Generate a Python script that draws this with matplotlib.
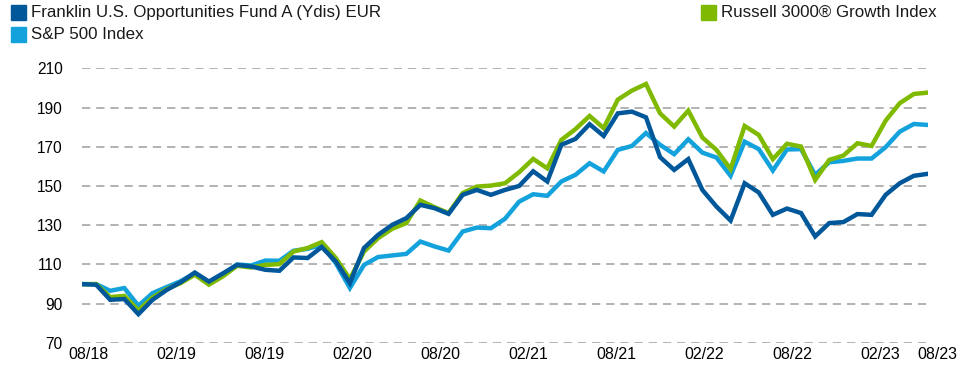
import numpy as np
import matplotlib.pyplot as plt
from matplotlib.patches import Rectangle

plt.rcParams['font.family'] = ['Liberation Sans', 'DejaVu Sans']

# monthly index values, 08/18 = 100, through 08/23
fund = [100, 99.7, 92, 92.4, 84.7, 92, 97, 101, 105.9, 101.3,
        105.5, 109.8, 109, 107.3, 106.8, 113.6, 113.3, 118.9, 111.5, 100.5,
        118.4, 125.1, 130.2, 133.6, 140.4, 138.7, 135.8, 145.5, 148, 145.5,
        148, 150, 157.5, 152.3, 171, 174, 181.5, 175.5, 187, 187.9,
        185, 164.7, 158.2, 163.7, 148, 139.5, 132.4, 151.4, 146.7, 135.3,
        138.5, 136.2, 124.3, 131.1, 131.6, 135.7, 135.3, 145.5, 151.4, 155.2, 156.2]
russell = [100, 100, 93.4, 94, 86.6, 93.2, 97.5, 100.5, 104.8, 99.7,
           104, 109.3, 108.5, 109.8, 110.2, 116.6, 118.4, 121.4, 113.3, 102.6,
           116.6, 123.4, 128.2, 131.1, 142.6, 139.2, 136.2, 146.4, 149.7, 150.2,
           151.4, 157, 163.8, 159, 173.5, 179, 185.7, 179.5, 194, 198.6,
           202, 187, 180.3, 188.4, 174.7, 168.4, 158.6, 180.6, 176, 163.7,
           171.5, 170.1, 153.1, 163.3, 165.5, 171.8, 170.4, 183.3, 192.2, 196.9, 197.6]
sp500 = [100, 100, 96.6, 98, 89, 95.4, 98.5, 101.5, 105.5, 101,
         105, 110, 109.5, 112, 111.9, 117, 118, 120, 110.7, 98,
         109.8, 113.8, 114.6, 115.4, 121.7, 119.2, 117.1, 126.8, 128.8, 128.5,
         133.3, 142, 145.8, 145, 152.3, 155.7, 161.6, 157.4, 168.4, 170.4,
         177, 171, 166.2, 173.8, 167, 164.5, 155.2, 172.6, 168.8, 157.9,
         168.6, 168.8, 155.7, 162.1, 162.8, 164, 164, 169.8, 177.7, 181.6, 181.1]
date_labels = ['08/18', '02/19', '08/19', '02/20', '08/20', '02/21',
               '08/21', '02/22', '08/22', '02/23', '08/23']
yticks = [70, 90, 110, 130, 150, 170, 190, 210]

c_fund = '#00579a'
c_sp = '#13a2dc'
c_rus = '#7fba00'

fig = plt.figure(figsize=(9.73, 3.65), dpi=100)
ax = fig.add_axes([0.0843, 0.0603, 0.8694, 0.7527])

x = np.arange(len(fund))
ax.plot(x, sp500, color=c_sp, lw=3.2, solid_joinstyle='miter', zorder=3)
ax.plot(x, russell, color=c_rus, lw=3.2, solid_joinstyle='miter', zorder=4)
ax.plot(x, fund, color=c_fund, lw=3.2, solid_joinstyle='miter', zorder=5)

ax.set_xlim(0, len(fund) - 1)
ax.set_ylim(70, 210)
ax.set_yticks(yticks)
ax.set_yticklabels([str(v) for v in yticks], fontsize=11.2)
ax.yaxis.grid(True, color='#a6a6a6', lw=1.2, ls=(0, (5, 3.5)))
ax.set_axisbelow(True)

# date labels sit on a slightly wider spacing than the monthly points;
# the last one hangs past the right edge of the plot
tick_pos = list(np.arange(10) * 6.24 + 0.43)
ax.set_xticks(tick_pos)
ax.set_xticklabels(date_labels[:-1], fontsize=11.5)
ax.annotate(date_labels[-1], xy=(60.7, 70), xycoords='data',
            xytext=(0, -3), textcoords='offset points',
            ha='center', va='top', fontsize=11.5, annotation_clip=False)
ax.tick_params(axis='both', length=0)
ax.tick_params(axis='y', pad=14)
ax.tick_params(axis='x', pad=3)
for s in ax.spines.values():
    s.set_visible(False)

# legend boxes drawn in figure pixels
W, H = 973, 365
items = [(11, 5, c_fund, 'Franklin U.S. Opportunities Fund A (Ydis) EUR'),
         (11, 27, c_sp, 'S&P 500 Index'),
         (701, 5, c_rus, 'Russell 3000® Growth Index')]
for px, py, col, label in items:
    fig.patches.append(Rectangle((px / W, 1 - (py + 15) / H), 15 / W, 15 / H,
                                 transform=fig.transFigure, color=col))
    fig.text((px + 20) / W, 1 - (py + 7.5) / H, label, fontsize=12.2,
             va='center', ha='left', color='#1a1a1a')

fig.savefig('out.png', dpi=100)
